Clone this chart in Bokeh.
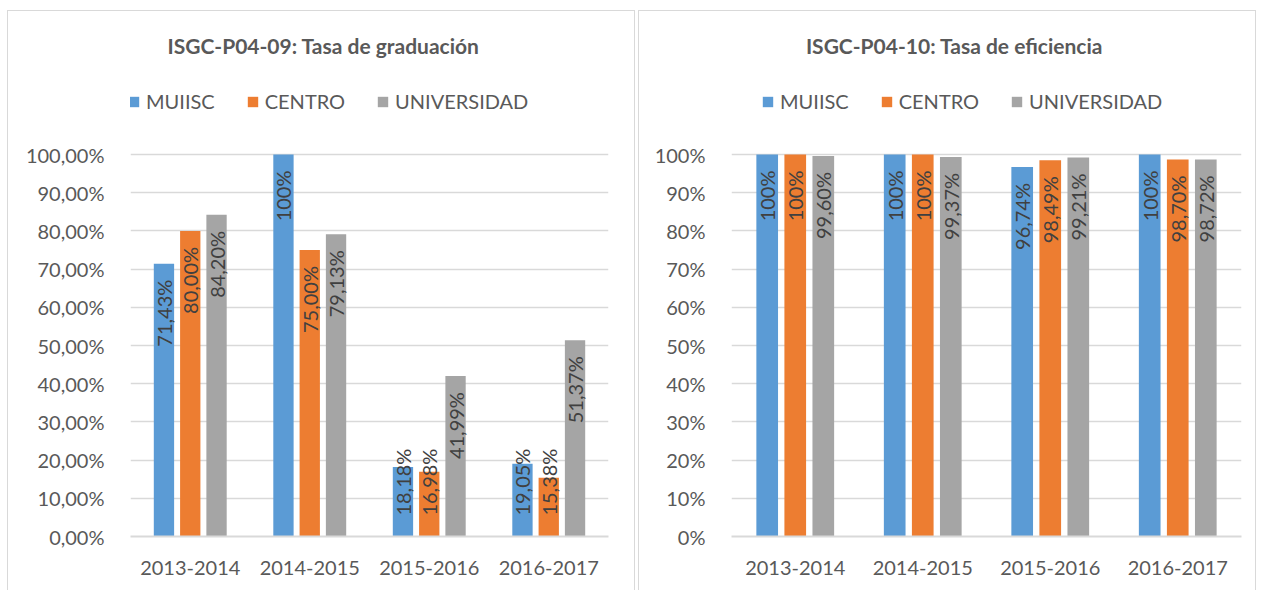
import math
from bokeh.plotting import figure
from bokeh.layouts import row
from bokeh.models import (FactorRange, Range1d, FixedTicker, Legend, LegendItem,
                          Label, ColumnDataSource)
from bokeh.transform import dodge
from bokeh.core.properties import value
from bokeh.embed import file_html
from bokeh.resources import INLINE

# ---------------- data ----------------
years = ["2013-2014", "2014-2015", "2015-2016", "2016-2017"]
series = ["MUIISC", "CENTRO", "UNIVERSIDAD"]
colors = ["#5B9BD5", "#ED7D31", "#A5A5A5"]

grad_muiisc = [71.43, 100.0, 18.18, 19.05]
grad_centro = [80.00, 75.00, 16.98, 15.38]
grad_univ = [84.20, 79.13, 41.99, 51.37]

efic_muiisc = [100.0, 100.0, 96.74, 100.0]
efic_centro = [100.0, 100.0, 98.49, 98.70]
efic_univ = [99.60, 99.37, 99.21, 98.72]

y_ticks = [0, 10, 20, 30, 40, 50, 60, 70, 80, 90, 100]
grad_tick_labels = ["0,00%", "10,00%", "20,00%", "30,00%", "40,00%", "50,00%",
                    "60,00%", "70,00%", "80,00%", "90,00%", "100,00%"]
efic_tick_labels = ["0%", "10%", "20%", "30%", "40%", "50%",
                    "60%", "70%", "80%", "90%", "100%"]

title_grad = "ISGC-P04-09: Tasa de graduación"
title_efic = "ISGC-P04-10: Tasa de eficiencia"

# ---------------- style ----------------
FONT = "Lato"
TXT = "#595959"
LBL = "#404040"
GRID = "#D9D9D9"
HEIGHT = 580
BOTTOM = 55
PX_PER_PCT = 3.82
Y_END = (HEIGHT - BOTTOM) / PX_PER_PCT
BAR_W = 0.17
DODGE = 0.22
BORDER = "1px solid #D9D9D9"


def fmt(v):
    if v >= 100:
        return "100%"
    return f"{v:.2f}".replace(".", ",") + "%"


def make_panel(title, vals, tick_labels, width, left, right, legend_vx, margin):
    p = figure(width=width, height=HEIGHT, x_range=FactorRange(*years, range_padding=0),
               y_range=Range1d(0, Y_END), output_backend="svg", toolbar_location=None,
               min_border_left=left, min_border_right=right, min_border_top=0,
               min_border_bottom=BOTTOM, margin=margin)
    p.outline_line_color = None
    p.background_fill_color = "white"
    p.border_fill_color = "white"
    p.styles = {"border-top": BORDER, "border-left": BORDER, "border-right": BORDER}

    frame_w = width - left - right
    unit = frame_w / len(years)

    offsets = [-DODGE, 0.0, DODGE]
    items = []
    for name, col, off, v in zip(series, colors, offsets, vals):
        src = ColumnDataSource(dict(
            year=years, val=v,
            lab=[fmt(a) for a in v],
            ly=[max(a - 4.2, 23.0) for a in v],
        ))
        r = p.vbar(x=dodge("year", off, range=p.x_range), top="val", bottom=0,
                   width=BAR_W, source=src, fill_color=col, line_color=None)
        p.text(x=dodge("year", off, range=p.x_range), y="ly", text="lab", source=src,
               angle=math.pi / 2, text_align="right", text_baseline="middle",
               text_font=value(FONT), text_font_size="20px", text_color=LBL)
        items.append(LegendItem(label=name, renderers=[r]))

    legend = Legend(items=items, orientation="horizontal", location=(legend_vx, 423),
                    glyph_width=13, glyph_height=13, label_standoff=6, spacing=31,
                    padding=0, margin=0, border_line_color=None,
                    background_fill_alpha=0, label_text_font=FONT,
                    label_text_font_size="20px", label_text_color=TXT)
    p.add_layout(legend, "center")

    # title
    p.add_layout(Label(x=(315 - left) / unit, y=Y_END - 34 / PX_PER_PCT, text=title,
                       text_align="center", text_baseline="middle", text_font=FONT,
                       text_font_size="21px", text_font_style="bold", text_color=TXT))

    # axes
    p.yaxis.ticker = FixedTicker(ticks=y_ticks)
    p.yaxis.major_label_overrides = {t: l for t, l in zip(y_ticks, tick_labels)}
    p.yaxis.axis_line_color = None
    p.yaxis.major_tick_line_color = None
    p.yaxis.minor_tick_line_color = None
    p.yaxis.major_label_standoff = 20
    p.yaxis.major_label_text_font = FONT
    p.yaxis.major_label_text_font_size = "20px"
    p.yaxis.major_label_text_color = TXT

    p.xaxis.axis_line_color = GRID
    p.xaxis.axis_line_width = 2
    p.xaxis.major_tick_line_color = None
    p.xaxis.minor_tick_line_color = None
    p.xaxis.major_label_standoff = 18
    p.xaxis.major_label_text_font = FONT
    p.xaxis.major_label_text_font_size = "20px"
    p.xaxis.major_label_text_color = TXT

    p.xgrid.grid_line_color = None
    p.ygrid.ticker = FixedTicker(ticks=y_ticks)
    p.ygrid.grid_line_color = GRID
    p.ygrid.grid_line_width = 1.5
    return p


p1 = make_panel(title_grad, [grad_muiisc, grad_centro, grad_univ], grad_tick_labels,
                628, 122, 28, -3, (10, 0, 0, 7))
p2 = make_panel(title_efic, [efic_muiisc, efic_centro, efic_univ], efic_tick_labels,
                618, 92, 16, 30, (10, 0, 0, 0))

layout = row(p1, p2, spacing=3)
open("out.html", "w").write(file_html(layout, INLINE))
